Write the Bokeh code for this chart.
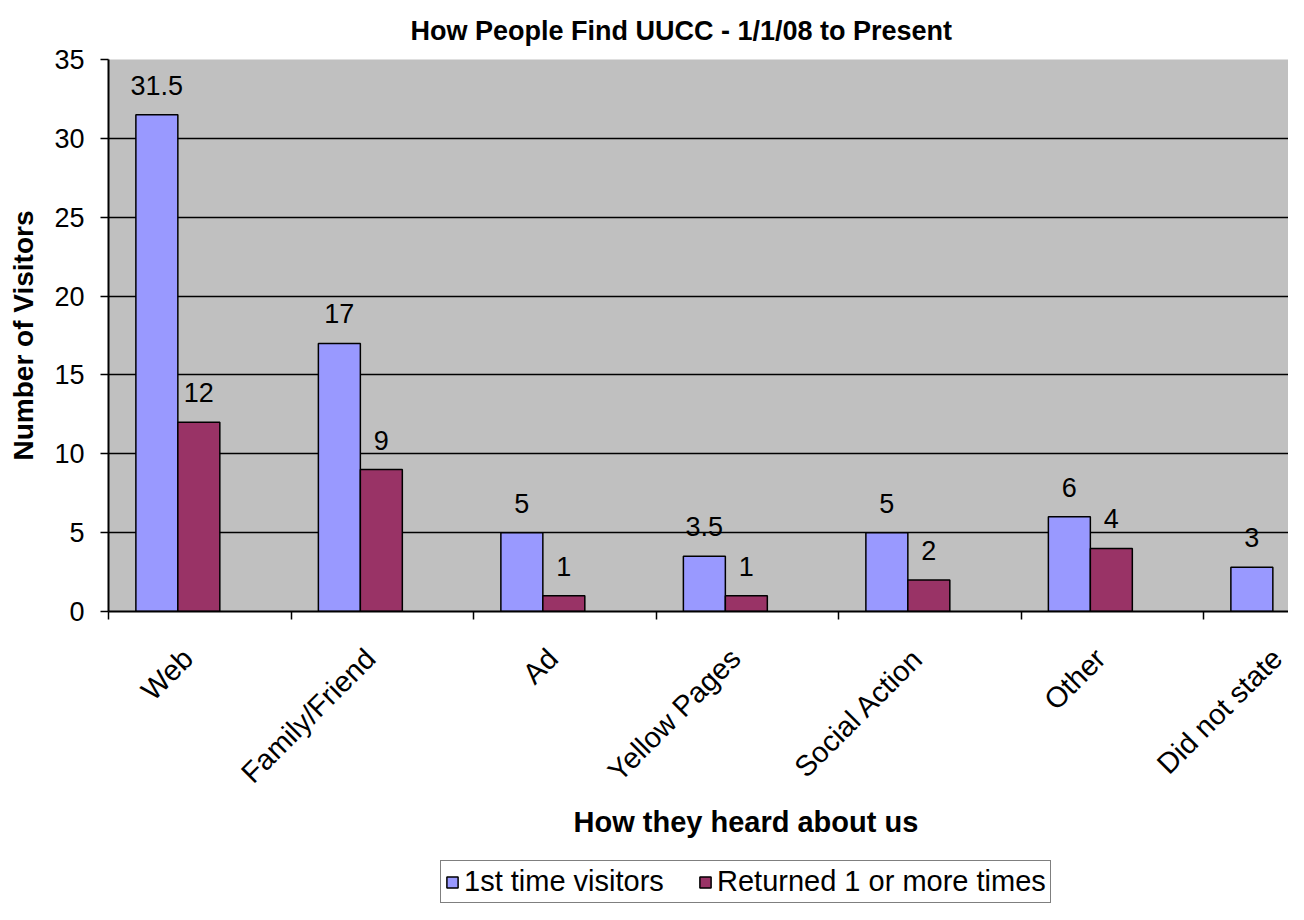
import math
from bokeh.plotting import figure
from bokeh.layouts import column
from bokeh.models import (ColumnDataSource, FixedTicker, Legend, LegendItem,
                          LabelSet, Title, Range1d)
from bokeh.transform import dodge
from bokeh.core.properties import value
from bokeh.embed import file_html
from bokeh.resources import INLINE

# ---------------- data ----------------
title_text = "How People Find UUCC - 1/1/08 to Present"
x_title = "How they heard about us"
y_title = "Number of Visitors"
categories = ["Web", "Family/Friend", "Ad", "Yellow Pages", "Social Action",
              "Other", "Did not state"]
first_time = [31.5, 17, 5, 3.5, 5, 6, 2.8]
first_time_labels = ["31.5", "17", "5", "3.5", "5", "6", "3"]
returned = [12, 9, 1, 1, 2, 4, None]
returned_labels = ["12", "9", "1", "1", "2", "4", ""]
series_names = ["1st time visitors", "Returned 1 or more times"]
y_ticks = [0, 5, 10, 15, 20, 25, 30, 35]

FONT = "Liberation Sans"
BLUE = "#9999FF"
MAROON = "#993366"
HAS_STANDOFF = "standoff" in Title.properties()

xs = list(range(len(categories)))
cat_px = 182.5          # pixel width of one category
frame_w = 1180
label_shift = -0.065    # category labels sit a little left of centre

src1 = ColumnDataSource(dict(x=xs, y=first_time, t=first_time_labels))
r_x = [x for x, v in zip(xs, returned) if v is not None]
r_y = [v for v in returned if v is not None]
r_t = [t for t, v in zip(returned_labels, returned) if v is not None]
src2 = ColumnDataSource(dict(x=r_x, y=r_y, t=r_t))

p = figure(width=1288, height=860, output_backend="svg", toolbar_location=None,
           x_range=Range1d(-0.5, -0.5 + frame_w / cat_px),
           y_range=Range1d(y_ticks[0], y_ticks[-1]),
           min_border_left=108, min_border_right=0, min_border_top=58,
           min_border_bottom=249)

p.background_fill_color = "#C0C0C0"
p.border_fill_color = "white"
p.outline_line_color = None

bw = 0.23
offs = (-0.235, -0.005)
colors = (BLUE, MAROON)
for src, off, col in zip((src1, src2), offs, colors):
    p.vbar(x=dodge("x", off, range=p.x_range), top="y", width=bw, source=src,
           fill_color=col, line_color="black", line_width=1.5)
    p.add_layout(LabelSet(x=dodge("x", off, range=p.x_range), y="y", text="t",
                          source=src, text_align="center",
                          text_baseline="alphabetic", y_offset=20,
                          text_font=value(FONT), text_font_size="27px",
                          text_color="black"))

# title
p.title.text = title_text
p.title.align = "left"
p.title.offset = 302
p.title.text_font = FONT
p.title.text_font_size = "27px"
p.title.text_font_style = "bold"
p.title.text_color = "black"
if HAS_STANDOFF:
    p.title.standoff = 27

# y axis
yax = p.yaxis[0]
yax.ticker = FixedTicker(ticks=y_ticks)
yax.axis_label = y_title
yax.axis_label_text_font = FONT
yax.axis_label_text_font_size = "28px"
yax.axis_label_text_font_style = "bold"
yax.axis_label_text_color = "black"
yax.axis_label_standoff = 12
yax.major_label_text_font = FONT
yax.major_label_text_font_size = "27px"
yax.major_label_text_color = "black"
yax.major_label_standoff = 16
yax.major_tick_out = 8
yax.major_tick_in = 0
yax.minor_tick_line_color = None
yax.axis_line_width = 2
yax.axis_line_color = "black"
yax.major_tick_line_color = "black"
yax.major_tick_line_width = 1.5

# x axis: labels at (shifted) category centres, tick marks at boundaries
xax = p.xaxis[0]
label_pos = [round(x + label_shift, 3) for x in xs]
bounds = [x - 0.5 for x in xs] + [xs[-1] + 0.5]
xax.ticker = FixedTicker(ticks=label_pos, minor_ticks=bounds)
xax.major_label_overrides = {lp: c for lp, c in zip(label_pos, categories)}
xax.major_label_orientation = math.pi / 4
xax.major_label_text_font = FONT
xax.major_label_text_font_size = "29px"
xax.major_label_text_color = "black"
xax.major_label_standoff = 34
xax.major_tick_out = 0
xax.major_tick_in = 0
xax.minor_tick_out = 8
xax.minor_tick_in = 0
xax.minor_tick_line_color = "black"
xax.minor_tick_line_width = 1.5
xax.axis_line_width = 2
xax.axis_line_color = "black"

xt = Title(text=x_title, align="left", offset=465, text_font=FONT,
           text_font_size="29px", text_font_style="bold", text_color="black")
if HAS_STANDOFF:
    xt.standoff = 1
p.add_layout(xt, "below")

# grid
p.xgrid.grid_line_color = None
p.ygrid.ticker = FixedTicker(ticks=y_ticks[1:-1])
p.ygrid.grid_line_color = "black"
p.ygrid.grid_line_width = 1.5

# ---------------- legend strip ----------------
lg = figure(width=1288, height=44, output_backend="svg", toolbar_location=None,
            x_axis_type=None, y_axis_type=None,
            x_range=Range1d(100, 101), y_range=Range1d(-200, -100),
            min_border=0, outline_line_color=None)
lg.background_fill_color = "white"
lg.border_fill_color = "white"
lrs = []
for src, col in zip((src1, src2), colors):
    lrs.append(lg.vbar(x="x", top="y", width=bw, source=src, fill_color=col,
                       line_color="black", line_width=1.5, visible=False))

legend = Legend(items=[LegendItem(label=n, renderers=[r])
                       for n, r in zip(series_names, lrs)],
                orientation="horizontal", location=(332, 1),
                border_line_color="black", border_line_width=1.5,
                padding=4, spacing=10, label_standoff=5, margin=0,
                label_width=224,
                glyph_width=14, glyph_height=14,
                label_text_font=FONT, label_text_font_size="29px",
                label_text_color="black",
                background_fill_color="white", background_fill_alpha=1)
lg.add_layout(legend, "center")

layout = column(p, lg, spacing=0)
open("out.html", "w").write(file_html(layout, INLINE))
